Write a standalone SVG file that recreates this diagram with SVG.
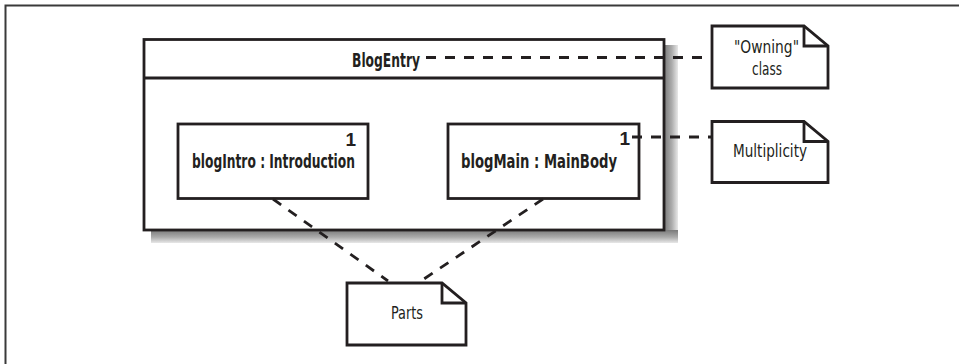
<svg xmlns="http://www.w3.org/2000/svg" width="959" height="364" viewBox="0 0 959 364">
<style>
.box{fill:#fff;stroke:#231f20;stroke-width:2.8}
.line{fill:none;stroke:#231f20;stroke-width:2.8}
.dash{fill:none;stroke:#231f20;stroke-width:2.8;stroke-dasharray:10 9}
.b{font-family:"Liberation Sans Narrow","DejaVu Sans Condensed","Liberation Sans",sans-serif;font-weight:bold;font-size:20px;fill:#231f20}
.m{font-family:"Liberation Sans",Arial,sans-serif;font-weight:bold;font-size:19px;fill:#231f20}
.r{font-family:"Liberation Sans Narrow","DejaVu Sans Condensed","Liberation Sans",sans-serif;font-size:18px;fill:#231f20}
</style>
<defs>
<linearGradient id="shR" x1="0" y1="0" x2="1" y2="0">
<stop offset="0" stop-color="#7a7a7a"/><stop offset="0.55" stop-color="#ababab"/><stop offset="1" stop-color="#e8e8e8"/>
</linearGradient>
<linearGradient id="shB" x1="0" y1="0" x2="0" y2="1">
<stop offset="0" stop-color="#7a7a7a"/><stop offset="0.55" stop-color="#ababab"/><stop offset="1" stop-color="#e8e8e8"/>
</linearGradient>
</defs>
<rect width="959" height="364" fill="#fff"/>
<g id="frame">
<path d="M5.5 364 V5.5 H959" fill="none" stroke="#3a3a3a" stroke-width="2"/>
</g>
<g id="BlogEntry">
<rect x="664" y="45" width="14" height="198" fill="url(#shR)"/>
<rect x="151" y="230" width="527" height="13" fill="url(#shB)"/>
<rect class="box" x="144" y="39.5" width="520" height="190.5"/>
<line class="line" x1="144" y1="78" x2="664" y2="78"/>
<text class="b" x="352" y="66.5" textLength="68" lengthAdjust="spacingAndGlyphs">BlogEntry</text>
</g>
<g id="blogIntro">
<rect class="box" x="178" y="124" width="190" height="74.5"/>
<text class="m" x="356" y="145.5" text-anchor="end">1</text>
<text class="b" x="192" y="168" textLength="163" lengthAdjust="spacingAndGlyphs">blogIntro : Introduction</text>
</g>
<g id="blogMain">
<rect class="box" x="448" y="124" width="191" height="74.5"/>
<text class="m" x="630" y="144.5" text-anchor="end">1</text>
<text class="b" x="461" y="168" textLength="156" lengthAdjust="spacingAndGlyphs">blogMain : MainBody</text>
</g>
<g id="note-owning">
<path class="box" d="M712 26 H804 L828 46 V88 H712 Z"/>
<path class="line" d="M804 26 V46 H828"/>
<text class="r" x="734" y="53" textLength="65" lengthAdjust="spacingAndGlyphs">"Owning"</text>
<text class="r" x="752" y="74.5" textLength="30" lengthAdjust="spacingAndGlyphs">class</text>
</g>
<g id="note-multiplicity">
<path class="box" d="M712 121.5 H804 L828 141.5 V182.5 H712 Z"/>
<path class="line" d="M804 121.5 V141.5 H828"/>
<text class="r" x="733" y="157" textLength="74" lengthAdjust="spacingAndGlyphs">Multiplicity</text>
</g>
<g id="note-parts">
<path class="box" d="M347 283 H442 L466 303 V345 H347 Z"/>
<path class="line" d="M442 283 V303 H466"/>
<text class="r" x="391" y="319" textLength="32" lengthAdjust="spacingAndGlyphs">Parts</text>
</g>
<g id="connectors">
<line class="dash" x1="426" y1="57.5" x2="712" y2="57.5"/>
<line class="dash" x1="632" y1="137" x2="712" y2="137"/>
<line class="dash" x1="273" y1="199" x2="388" y2="281"/>
<line class="dash" x1="543" y1="199" x2="418" y2="283"/>
</g>
</svg>
